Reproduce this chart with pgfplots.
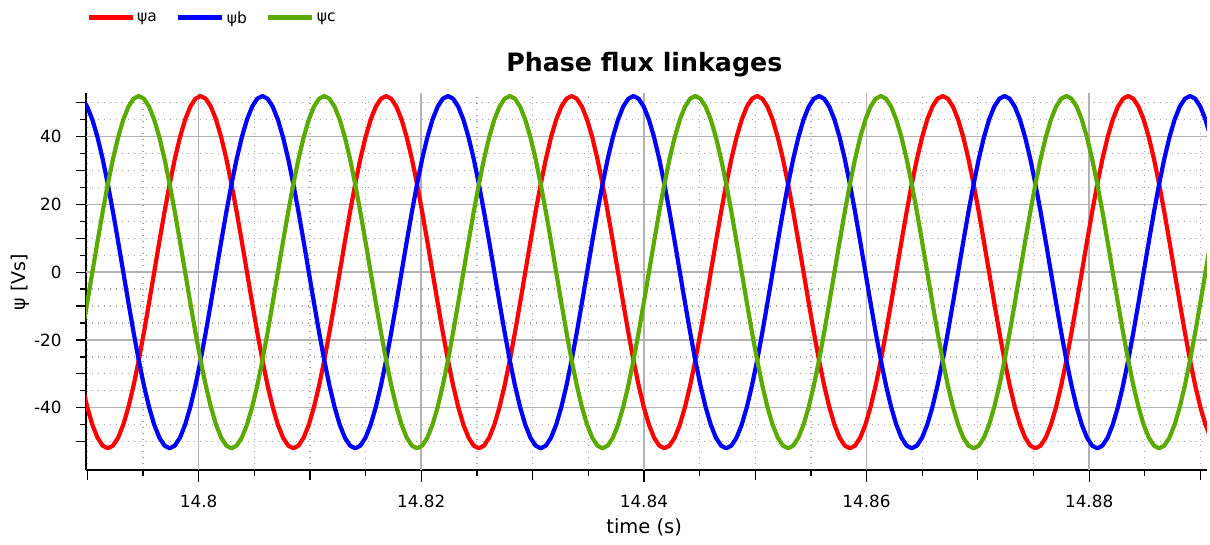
\documentclass[border=0pt]{standalone}
\usepackage{fontspec}
\setmainfont{DejaVu Sans}
\usepackage{pgfplots}
\usepackage{pgfplotstable}
\pgfplotsset{compat=1.18}
\definecolor{cA}{RGB}{255,0,0}
\definecolor{cB}{RGB}{0,0,255}
\definecolor{cC}{RGB}{90,170,0}
\definecolor{gridmaj}{RGB}{178,178,178}
\definecolor{gridmin}{RGB}{165,165,165}
% t in ms after 14.8 s
\pgfplotstableread{
t a b c
-10.473 -33.43 51.21 -17.79
-10.011 -39.83 48.86 -9.03
-9.548 -45.03 45.03 0
-9.085 -48.86 39.83 9.03
-8.622 -51.21 33.43 17.79
-8.159 -52 26 26
-7.696 -51.21 17.79 33.43
-7.233 -48.86 9.03 39.83
-6.770 -45.03 0 45.03
-6.307 -39.83 -9.03 48.86
-5.844 -33.43 -17.79 51.21
-5.381 -26 -26 52
-4.918 -17.79 -33.43 51.21
-4.455 -9.03 -39.83 48.86
-3.992 0 -45.03 45.03
-3.529 9.03 -48.86 39.83
-3.066 17.79 -51.21 33.43
-2.603 26 -52 26
-2.140 33.43 -51.21 17.79
-1.677 39.83 -48.86 9.03
-1.214 45.03 -45.03 0
-0.751 48.86 -39.83 -9.03
-0.288 51.21 -33.43 -17.79
0.175 52 -26 -26
0.638 51.21 -17.79 -33.43
1.101 48.86 -9.03 -39.83
1.564 45.03 0 -45.03
2.027 39.83 9.03 -48.86
2.490 33.43 17.79 -51.21
2.953 26 26 -52
3.416 17.79 33.43 -51.21
3.879 9.03 39.83 -48.86
4.342 0 45.03 -45.03
4.805 -9.03 48.86 -39.83
5.268 -17.79 51.21 -33.43
5.731 -26 52 -26
6.194 -33.43 51.21 -17.79
6.656 -39.83 48.86 -9.03
7.119 -45.03 45.03 0
7.582 -48.86 39.83 9.03
8.045 -51.21 33.43 17.79
8.508 -52 26 26
8.971 -51.21 17.79 33.43
9.434 -48.86 9.03 39.83
9.897 -45.03 0 45.03
10.360 -39.83 -9.03 48.86
10.823 -33.43 -17.79 51.21
11.286 -26 -26 52
11.749 -17.79 -33.43 51.21
12.212 -9.03 -39.83 48.86
12.675 0 -45.03 45.03
13.138 9.03 -48.86 39.83
13.601 17.79 -51.21 33.43
14.064 26 -52 26
14.527 33.43 -51.21 17.79
14.990 39.83 -48.86 9.03
15.453 45.03 -45.03 0
15.916 48.86 -39.83 -9.03
16.379 51.21 -33.43 -17.79
16.842 52 -26 -26
17.305 51.21 -17.79 -33.43
17.768 48.86 -9.03 -39.83
18.231 45.03 0 -45.03
18.694 39.83 9.03 -48.86
19.157 33.43 17.79 -51.21
19.620 26 26 -52
20.083 17.79 33.43 -51.21
20.546 9.03 39.83 -48.86
21.009 0 45.03 -45.03
21.472 -9.03 48.86 -39.83
21.935 -17.79 51.21 -33.43
22.398 -26 52 -26
22.861 -33.43 51.21 -17.79
23.323 -39.83 48.86 -9.03
23.786 -45.03 45.03 0
24.249 -48.86 39.83 9.03
24.712 -51.21 33.43 17.79
25.175 -52 26 26
25.638 -51.21 17.79 33.43
26.101 -48.86 9.03 39.83
26.564 -45.03 0 45.03
27.027 -39.83 -9.03 48.86
27.490 -33.43 -17.79 51.21
27.953 -26 -26 52
28.416 -17.79 -33.43 51.21
28.879 -9.03 -39.83 48.86
29.342 0 -45.03 45.03
29.805 9.03 -48.86 39.83
30.268 17.79 -51.21 33.43
30.731 26 -52 26
31.194 33.43 -51.21 17.79
31.657 39.83 -48.86 9.03
32.120 45.03 -45.03 0
32.583 48.86 -39.83 -9.03
33.046 51.21 -33.43 -17.79
33.508 52 -26 -26
33.971 51.21 -17.79 -33.43
34.434 48.86 -9.03 -39.83
34.897 45.03 0 -45.03
35.360 39.83 9.03 -48.86
35.823 33.43 17.79 -51.21
36.286 26 26 -52
36.749 17.79 33.43 -51.21
37.212 9.03 39.83 -48.86
37.675 0 45.03 -45.03
38.138 -9.03 48.86 -39.83
38.601 -17.79 51.21 -33.43
39.064 -26 52 -26
39.527 -33.43 51.21 -17.79
39.989 -39.83 48.86 -9.03
40.452 -45.03 45.03 0
40.915 -48.86 39.83 9.03
41.378 -51.21 33.43 17.79
41.841 -52 26 26
42.304 -51.21 17.79 33.43
42.767 -48.86 9.03 39.83
43.230 -45.03 0 45.03
43.693 -39.83 -9.03 48.86
44.156 -33.43 -17.79 51.21
44.619 -26 -26 52
45.082 -17.79 -33.43 51.21
45.545 -9.03 -39.83 48.86
46.008 0 -45.03 45.03
46.471 9.03 -48.86 39.83
46.934 17.79 -51.21 33.43
47.397 26 -52 26
47.860 33.43 -51.21 17.79
48.323 39.83 -48.86 9.03
48.786 45.03 -45.03 0
49.249 48.86 -39.83 -9.03
49.712 51.21 -33.43 -17.79
50.175 52 -26 -26
50.638 51.21 -17.79 -33.43
51.101 48.86 -9.03 -39.83
51.564 45.03 0 -45.03
52.027 39.83 9.03 -48.86
52.490 33.43 17.79 -51.21
52.953 26 26 -52
53.416 17.79 33.43 -51.21
53.879 9.03 39.83 -48.86
54.342 0 45.03 -45.03
54.805 -9.03 48.86 -39.83
55.268 -17.79 51.21 -33.43
55.731 -26 52 -26
56.194 -33.43 51.21 -17.79
56.656 -39.83 48.86 -9.03
57.119 -45.03 45.03 0
57.582 -48.86 39.83 9.03
58.045 -51.21 33.43 17.79
58.508 -52 26 26
58.971 -51.21 17.79 33.43
59.434 -48.86 9.03 39.83
59.897 -45.03 0 45.03
60.360 -39.83 -9.03 48.86
60.823 -33.43 -17.79 51.21
61.286 -26 -26 52
61.749 -17.79 -33.43 51.21
62.212 -9.03 -39.83 48.86
62.675 0 -45.03 45.03
63.138 9.03 -48.86 39.83
63.601 17.79 -51.21 33.43
64.064 26 -52 26
64.527 33.43 -51.21 17.79
64.990 39.83 -48.86 9.03
65.453 45.03 -45.03 0
65.916 48.86 -39.83 -9.03
66.379 51.21 -33.43 -17.79
66.842 52 -26 -26
67.305 51.21 -17.79 -33.43
67.768 48.86 -9.03 -39.83
68.231 45.03 0 -45.03
68.694 39.83 9.03 -48.86
69.157 33.43 17.79 -51.21
69.620 26 26 -52
70.083 17.79 33.43 -51.21
70.546 9.03 39.83 -48.86
71.009 0 45.03 -45.03
71.472 -9.03 48.86 -39.83
71.935 -17.79 51.21 -33.43
72.398 -26 52 -26
72.861 -33.43 51.21 -17.79
73.323 -39.83 48.86 -9.03
73.786 -45.03 45.03 0
74.249 -48.86 39.83 9.03
74.712 -51.21 33.43 17.79
75.175 -52 26 26
75.638 -51.21 17.79 33.43
76.101 -48.86 9.03 39.83
76.564 -45.03 0 45.03
77.027 -39.83 -9.03 48.86
77.490 -33.43 -17.79 51.21
77.953 -26 -26 52
78.416 -17.79 -33.43 51.21
78.879 -9.03 -39.83 48.86
79.342 0 -45.03 45.03
79.805 9.03 -48.86 39.83
80.268 17.79 -51.21 33.43
80.731 26 -52 26
81.194 33.43 -51.21 17.79
81.657 39.83 -48.86 9.03
82.120 45.03 -45.03 0
82.583 48.86 -39.83 -9.03
83.046 51.21 -33.43 -17.79
83.508 52 -26 -26
83.971 51.21 -17.79 -33.43
84.434 48.86 -9.03 -39.83
84.897 45.03 0 -45.03
85.360 39.83 9.03 -48.86
85.823 33.43 17.79 -51.21
86.286 26 26 -52
86.749 17.79 33.43 -51.21
87.212 9.03 39.83 -48.86
87.675 0 45.03 -45.03
88.138 -9.03 48.86 -39.83
88.601 -17.79 51.21 -33.43
89.064 -26 52 -26
89.527 -33.43 51.21 -17.79
89.989 -39.83 48.86 -9.03
90.452 -45.03 45.03 0
90.915 -48.86 39.83 9.03
}\flux

\begin{document}
\begin{tikzpicture}[x=1pt,y=1pt]
\useasboundingbox (0,0) rectangle (1210,545);
\begin{axis}[
  at={(86pt,75pt)}, anchor=south west,
  scale only axis, width=1121pt, height=377pt,
  xmin=-10.12, xmax=90.58, ymin=-58.4, ymax=52.9,
  axis lines=left,
  axis line style={-, line width=1.3pt, black},
  xtick={-10,0,...,90}, xticklabels={,,,,,,,,,,,,}, minor x tick num=1,
  ytick={-50,-40,...,50}, yticklabels={,,,,,,,,,,,,}, minor y tick num=1,
  tick align=outside, major tick length=10pt, minor tick length=6pt,
  tick style={black, line width=1.3pt},
  grid=both,
  major grid style={gridmin, line width=1.3pt, dash pattern=on 1.3pt off 4.7pt},
  minor grid style={gridmin, line width=1.3pt, dash pattern=on 1.3pt off 4.7pt},
  extra x ticks={0,20,40,60,80},
  extra x tick labels={14.8,14.82,14.84,14.86,14.88},
  extra x tick style={grid=major, major grid style={solid, gridmaj, line width=1.6pt}, major tick length=12pt},
  extra y ticks={-40,-20,0,20,40},
  extra y tick labels={-40,-20,0,20,40},
  extra y tick style={grid=major, major grid style={solid, gridmaj, line width=1.6pt}},
  ticklabel style={font=\fontsize{16.8}{18}\selectfont},
  xticklabel style={yshift=-10pt},
  yticklabel style={xshift=-11pt},
  title={Phase flux linkages},
  title style={at={(0.4981,1.04)}, anchor=base, font=\fontsize{25.3}{28}\selectfont\bfseries},
  xlabel={time (s)},
  xlabel style={at={(0.498,-0.153)}, anchor=center, font=\fontsize{19.5}{21}\selectfont},
  ylabel={ψ [Vs]},
  ylabel style={at={(-0.0588,0.4987)}, anchor=center, font=\fontsize{19}{21}\selectfont},
  legend columns=3,
  legend style={at={(0.0,1.199)}, anchor=west, draw=none, fill=none,
    font=\fontsize{15.5}{17}\selectfont, inner sep=0pt,
    /tikz/every even column/.append style={column sep=17pt}},
  legend image code/.code={\draw[#1, line width=5pt] (0pt,0pt) -- (44pt,0pt);},
]
\addplot[cA, line width=4.2pt, line join=round] table[x=t, y=a] {\flux};
\addplot[cB, line width=4.2pt, line join=round] table[x=t, y=b] {\flux};
\addplot[cC, line width=4.2pt, line join=round] table[x=t, y=c] {\flux};
\legend{ψa,ψb,ψc}
\end{axis}
\end{tikzpicture}
\end{document}
